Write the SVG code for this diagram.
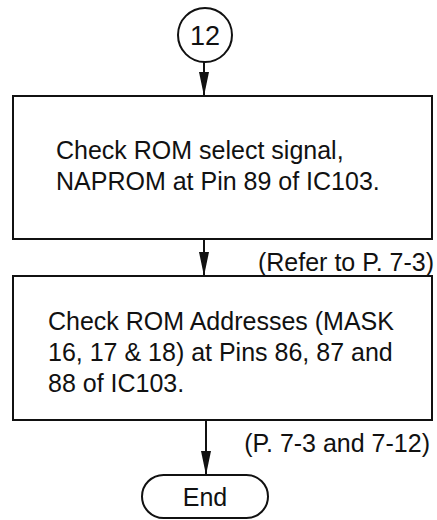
<svg xmlns="http://www.w3.org/2000/svg" width="437" height="520" viewBox="0 0 437 520">
<defs>
<style>
.s{fill:none;stroke:#111;stroke-width:2}
.t{font-family:"Liberation Sans",Arial,sans-serif;font-size:25px;fill:#111}
.c{stroke:#111;stroke-width:2;fill:none}
</style>
<marker id="ah" markerWidth="24" markerHeight="10" refX="24" refY="5" orient="auto" markerUnits="userSpaceOnUse" viewBox="0 0 24 10">
<path d="M0,0 L24,5 L0,10 Z" fill="#111"/>
</marker>
</defs>
<rect width="437" height="520" fill="#fff"/>
<g id="connectors">
<line class="c" x1="204" y1="62" x2="204" y2="96" marker-end="url(#ah)"/>
<line class="c" x1="204" y1="239" x2="204" y2="276" marker-end="url(#ah)"/>
<line class="c" x1="206" y1="420" x2="206" y2="475" marker-end="url(#ah)"/>
<text class="t" x="434" y="271" text-anchor="end">(Refer to P. 7-3)</text>
<text class="t" x="430" y="452" text-anchor="end">(P. 7-3 and 7-12)</text>
</g>
<g id="n12">
<circle class="s" cx="205" cy="35" r="27"/>
<text class="t" x="205" y="45" text-anchor="middle" style="font-size:27px">12</text>
</g>
<g id="box1">
<rect class="s" x="13" y="96" width="419" height="143"/>
<text class="t" x="56" y="159">Check ROM select signal,</text>
<text class="t" x="56" y="190">NAPROM at Pin 89 of IC103.</text>
</g>
<g id="box2">
<rect class="s" x="13" y="276" width="419" height="144"/>
<text class="t" x="48" y="330">Check ROM Addresses (MASK</text>
<text class="t" x="48" y="361">16, 17 &amp; 18) at Pins 86, 87 and</text>
<text class="t" x="48" y="392">88 of IC103.</text>
</g>
<g id="end">
<rect class="s" x="142" y="475" width="126" height="43" rx="21.5"/>
<text class="t" x="205" y="506" text-anchor="middle">End</text>
</g>
</svg>
